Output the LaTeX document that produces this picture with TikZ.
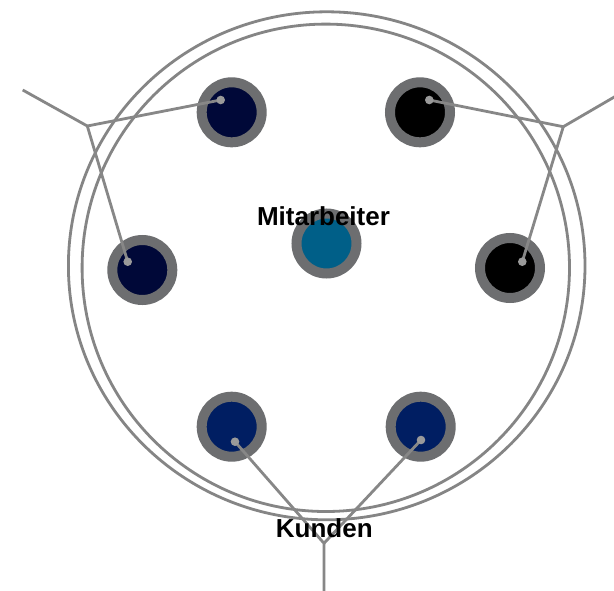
\documentclass[tikz,border=0pt]{standalone}
\usepackage{fontspec}
\setmainfont{Liberation Sans}
\begin{document}
\begin{tikzpicture}[x=1pt,y=-1pt,
  ring/.style={circle,draw=ringgray,line width=10pt,fill=#1,minimum size=60pt,inner sep=0pt},
  conn/.style={draw=linegray,line width=2.8pt},
  lbl/.style={font=\bfseries\fontsize{26}{26}\selectfont,text=black,inner sep=0pt}]
\definecolor{ringgray}{HTML}{6D6E70}
\definecolor{linegray}{HTML}{878787}
\definecolor{dotgray}{HTML}{9A9A9A}
\definecolor{bigc}{HTML}{858585}
\definecolor{navyA}{HTML}{000838}
\definecolor{navyB}{HTML}{001E62}
\definecolor{tealc}{HTML}{005F88}
\useasboundingbox (0,0) rectangle (614,590);
\fill[white] (0,0) rectangle (614,590);
% big circles
\draw[bigc,line width=2.8pt] (326.7,265.8) ellipse [x radius=258.3,y radius=254];
\draw[bigc,line width=2.8pt] (325.8,267.8) circle [radius=243.7];
% small circles
\node[ring=navyA] (tl) at (231.7,112.3) {};
\node[ring=black] (tr) at (420,112.3) {};
\node[ring=navyA] (ml) at (142.3,270) {};
\node[ring=black] (mr) at (510,268) {};
\node[ring=tealc] (c) at (326.5,243.5) {};
\node[ring=navyB] (bl) at (231.7,426.7) {};
\node[ring=navyB] (br) at (420.7,426.7) {};
% connector points
\coordinate (jl) at (87.3,126);
\coordinate (fl) at (22.7,90);
\coordinate (dtl) at (220.7,100);
\coordinate (dml) at (127.7,261.7);
\coordinate (jr) at (563.3,126.7);
\coordinate (fr) at (616,96);
\coordinate (dtr) at (429.3,100);
\coordinate (dmr) at (522.3,261.7);
\coordinate (jb) at (324,543.3);
\coordinate (fb) at (324,592);
\coordinate (dbl) at (235,441.7);
\coordinate (dbr) at (421,440);
\draw[conn] (fl) -- (jl) -- (dtl);
\draw[conn] (jl) -- (dml);
\draw[conn] (fr) -- (jr) -- (dtr);
\draw[conn] (jr) -- (dmr);
\draw[conn] (fb) -- (jb) -- (dbl);
\draw[conn] (jb) -- (dbr);
\foreach \p in {dtl,dml,dtr,dmr,dbl,dbr} \fill[dotgray] (\p) circle[radius=4.3];
% labels
\node[lbl] (lm) at (323.5,216.5) {Mitarbeiter};
\node[lbl] (lk) at (324.3,528.5) {Kunden};
\end{tikzpicture}
\end{document}
